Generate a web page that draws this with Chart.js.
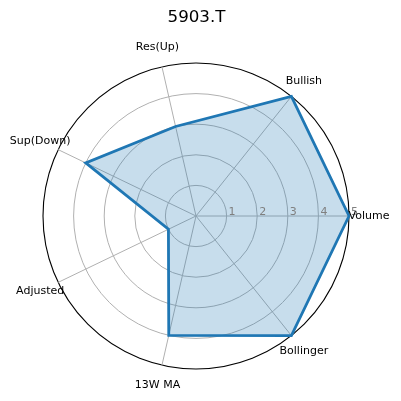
<!DOCTYPE html>
<html>
<head>
<meta charset="utf-8">
<script src="https://cdn.jsdelivr.net/npm/chart.js@4/dist/chart.umd.min.js"></script>
<style>
    html, body { margin: 0; padding: 0; background: #fff; }
    #box { width: 401px; height: 401px; position: relative; }
</style>
</head>
<body>
<div id="box"><canvas id="myChart"></canvas></div>
<script>
"use strict";

// order as in the original (counter-clockwise from the right)
const categories = ['Volume', 'Bullish', 'Res(Up)', 'Sup(Down)', 'Adjusted', '13W MA', 'Bollinger'];
const scores = [5, 5, 3, 4, 1, 4, 5];
const tickLabels = ['1', '2', '3', '4', '5'];
const title = '5903.T';

// chart.js walks clockwise, so keep the first and reverse the rest
const labels = [categories[0]].concat(categories.slice(1).reverse());
const data = [scores[0]].concat(scores.slice(1).reverse());

const font = "'DejaVu Sans', sans-serif";

// tick numbers along the Volume axis and labels round the circle
const radarText = {
    id: 'radarText',
    afterDraw(chart) {
        const scale = chart.scales.r;
        const ctx = chart.ctx;
        ctx.save();
        ctx.font = '11px ' + font;
        ctx.fillStyle = '#808080';
        ctx.textAlign = 'left';
        ctx.textBaseline = 'alphabetic';
        tickLabels.forEach(function (t) {
            const d = scale.getDistanceFromCenterForValue(Number(t));
            ctx.fillText(t, scale.xCenter + d + 2, scale.yCenter - 1);
        });
        ctx.fillStyle = '#000';
        ctx.textAlign = 'center';
        ctx.textBaseline = 'middle';
        labels.forEach(function (l, i) {
            const p = scale.getPointPosition(i, scale.drawingArea + 20);
            ctx.fillText(l, p.x, p.y);
        });
        ctx.restore();
    }
};

const ctx = document.getElementById('myChart');
const myChart = new Chart(ctx, {
    type: 'radar',
    data: {
        labels: labels,
        datasets: [{
            label: title,
            data: data,
            borderColor: '#1f77b4',
            backgroundColor: 'rgba(31, 119, 180, 0.25)',
            borderWidth: 2.8,
            fill: true,
            pointRadius: 0,
            pointHoverRadius: 0,
            tension: 0
        }]
    },
    options: {
        responsive: true,
        maintainAspectRatio: false,
        animation: false,
        layout: {
            padding: { left: 43, right: 51, top: 0, bottom: 31 }
        },
        plugins: {
            legend: { display: false },
            tooltip: { enabled: false },
            title: {
                display: true,
                text: title,
                color: '#000',
                font: { family: font, size: 16.7, weight: 'normal', lineHeight: 1.2 },
                padding: { top: 8, bottom: 35 }
            }
        },
        scales: {
            r: {
                min: 0,
                max: 5,
                startAngle: 90,
                ticks: { display: false, stepSize: 1 },
                pointLabels: { display: false },
                grid: {
                    circular: true,
                    color: function (c) { return c.tick && c.tick.value === 5 ? '#000' : '#b0b0b0'; },
                    lineWidth: function (c) { return c.tick && c.tick.value === 5 ? 1.1 : 1; }
                },
                angleLines: { color: '#b0b0b0', lineWidth: 1 }
            }
        }
    },
    plugins: [radarText]
});
</script>
</body>
</html>
